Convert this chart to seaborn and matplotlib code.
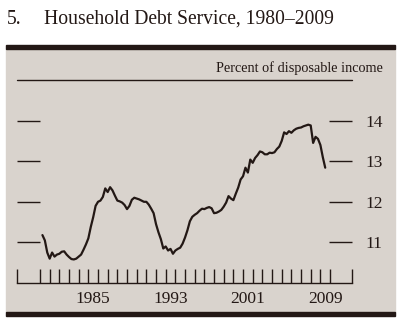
import numpy as np
import pandas as pd
import matplotlib
matplotlib.use("Agg")
import matplotlib.pyplot as plt
from matplotlib.patches import Rectangle
import seaborn as sns

# Quarterly household debt service ratio, 1980Q1-2009Q2 (percent of disposable income)
dsr = [
    11.18, 11.05, 10.75, 10.60,   # 1980
    10.75, 10.65, 10.70, 10.72,   # 1981
    10.77, 10.78, 10.70, 10.64,   # 1982
    10.59, 10.58, 10.60, 10.65,   # 1983
    10.70, 10.82, 10.95, 11.10,   # 1984
    11.38, 11.62, 11.90, 12.00,   # 1985
    12.03, 12.12, 12.33, 12.24,   # 1986
    12.36, 12.28, 12.15, 12.03,   # 1987
    12.01, 11.98, 11.92, 11.82,   # 1988
    11.90, 12.05, 12.10, 12.08,   # 1989
    12.06, 12.03, 12.00, 12.00,   # 1990
    11.93, 11.83, 11.72, 11.45,   # 1991
    11.25, 11.08, 10.85, 10.90,   # 1992
    10.80, 10.84, 10.72, 10.80,   # 1993
    10.84, 10.87, 10.97, 11.12,   # 1994
    11.30, 11.52, 11.63, 11.68,   # 1995
    11.72, 11.78, 11.83, 11.82,   # 1996
    11.85, 11.87, 11.84, 11.72,   # 1997
    11.73, 11.76, 11.80, 11.88,   # 1998
    11.98, 12.14, 12.08, 12.04,   # 1999
    12.20, 12.35, 12.55, 12.63,   # 2000
    12.84, 12.72, 13.04, 12.96,   # 2001
    13.08, 13.15, 13.24, 13.22,   # 2002
    13.17, 13.17, 13.21, 13.20,   # 2003
    13.22, 13.30, 13.36, 13.50,   # 2004
    13.71, 13.67, 13.74, 13.70,   # 2005
    13.76, 13.80, 13.82, 13.83,   # 2006
    13.86, 13.88, 13.90, 13.88,   # 2007
    13.45, 13.60, 13.55, 13.40,   # 2008
    13.10, 12.84,                 # 2009
]
start_year = 1980
quarter_dates = [start_year + 0.25 * (i + 1) for i in range(len(dsr))]

y_ticks = [11, 12, 13, 14]
x_label_years = [1985, 1993, 2001, 2009]
title_num = "5."
title_text = "Household Debt Service, 1980\u20132009"
unit_text = "Percent of disposable income"

df = pd.DataFrame({"date": quarter_dates, "dsr": dsr})

sns.set_theme(style="white")
plt.rcParams["font.family"] = ["Liberation Serif", "DejaVu Serif"]

ink = "#231815"
panel_col = "#d9d3cd"

fig = plt.figure(figsize=(4.0, 3.23), dpi=100)
fig.patch.set_facecolor("white")
W, H = 400.0, 323.0

def fr(x0, y0, x1, y1):
    return (x0 / W, 1 - y1 / H, (x1 - x0) / W, (y1 - y0) / H)

# panel background and thick rules
x, y, w, h = fr(6, 49, 395, 312)
fig.patches.append(Rectangle((x, y), w, h, transform=fig.transFigure, color=panel_col, zorder=-10))
x, y, w, h = fr(6, 45, 395, 49)
fig.patches.append(Rectangle((x, y), w, h, transform=fig.transFigure, color=ink, zorder=-5))
x, y, w, h = fr(6, 312, 395, 316)
fig.patches.append(Rectangle((x, y), w, h, transform=fig.transFigure, color=ink, zorder=-5))

fig.text(7 / W, 1 - 24 / H, title_num, fontsize=14.1, color=ink, ha="left", va="baseline")
fig.text(44 / W, 1 - 24 / H, title_text, fontsize=14.1, color=ink, ha="left", va="baseline")

ax = fig.add_axes(fr(17, 80, 352, 283))
ax.set_zorder(5)
ax.patch.set_alpha(0)

x_lo, x_hi = 1977.62, 2012.27
sns.lineplot(data=df, x="date", y="dsr", ax=ax, color=ink, linewidth=1.6)

ax.set_xlim(x_lo, x_hi)
ax.set_ylim(10, 15)
ax.set_xlabel("")
ax.set_ylabel("")

for s in ["left", "right", "top"]:
    ax.spines[s].set_visible(False)
ax.spines["bottom"].set_color(ink)
ax.spines["bottom"].set_linewidth(1.0)

ax.axhline(15, color=ink, lw=1.0, clip_on=False)

# y ticks both sides, labels on right
ax.set_yticks(y_ticks)
ax.set_yticklabels([str(v) for v in y_ticks])
ax.yaxis.set_ticks_position("both")
ax.tick_params(axis="y", direction="in", length=16.5, width=1.0, color=ink,
               labelleft=False, labelright=True, pad=9.5, labelsize=12.5, labelcolor=ink)

# x: year boundary ticks plus bracket ends; labels centered in the year
major = [x_lo] + list(range(1980, 2011)) + [x_hi]
ax.set_xticks(major)
ax.set_xticklabels([""] * len(major))
ax.set_xticks([yr + 0.5 for yr in x_label_years], minor=True)
ax.set_xticklabels([str(yr) for yr in x_label_years], minor=True)
ax.tick_params(axis="x", which="major", bottom=True, top=False, direction="in",
               length=10, width=1.0, color=ink)
ax.tick_params(axis="x", which="minor", bottom=True, top=False, length=0, pad=6,
               labelsize=12.5, labelcolor=ink)

fig.text(383 / W, 1 - 72 / H, unit_text, fontsize=10.3, color=ink, ha="right", va="baseline")

fig.savefig("out.png", dpi=100, facecolor="white")
